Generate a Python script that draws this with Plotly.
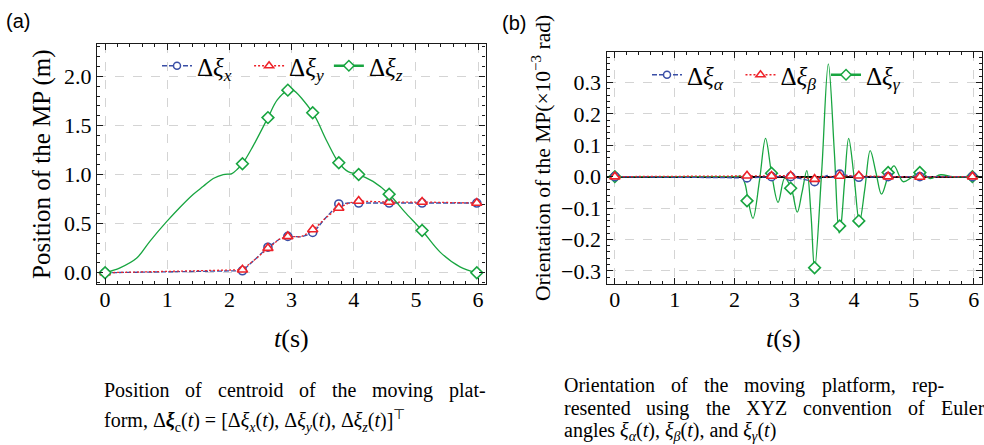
import plotly.graph_objects as go

# ---------------- panel (a): position of the moving platform ----------------
t_marks = [0.0, 2.21, 2.62, 2.94, 3.34, 3.76, 4.08, 4.57, 5.10, 5.98]
pos_x_marks = [0.0, 0.02, 0.26, 0.37, 0.41, 0.70, 0.71, 0.71, 0.71, 0.71]
pos_y_marks = [0.0, 0.03, 0.25, 0.37, 0.44, 0.66, 0.73, 0.72, 0.72, 0.71]
pos_z_marks = [0.0, 1.11, 1.58, 1.86, 1.63, 1.12, 1.00, 0.80, 0.43, 0.0]

t_pos_xy = [0.0, 2.21, 2.42, 2.62, 2.80, 2.94, 3.15, 3.34, 3.55, 3.76, 3.92, 4.08, 4.57, 5.10, 5.98]
pos_x_line = [0.0, 0.02, 0.14, 0.26, 0.34, 0.37, 0.365, 0.40, 0.56, 0.70, 0.71, 0.71, 0.71, 0.71, 0.71]
pos_y_line = [0.0, 0.03, 0.14, 0.25, 0.34, 0.37, 0.365, 0.43, 0.56, 0.66, 0.71, 0.73, 0.72, 0.72, 0.71]

t_pos_z = [0.0, 0.24, 0.51, 0.72, 0.99, 1.21, 1.42, 1.58, 1.74, 1.90, 2.04, 2.12,
           2.21, 2.38, 2.62, 2.77, 2.94, 3.00, 3.34, 3.56, 3.76, 3.91, 4.08, 4.31,
           4.57, 4.82, 5.10, 5.39, 5.71, 5.98]
pos_z_line = [0.0, 0.05, 0.15, 0.32, 0.52, 0.67, 0.80, 0.88, 0.96, 1.00, 1.01, 1.05,
              1.11, 1.29, 1.58, 1.76, 1.86, 1.87, 1.63, 1.35, 1.12, 1.03, 1.00, 0.93,
              0.80, 0.62, 0.43, 0.21, 0.06, 0.0]

# ---------------- panel (b): orientation (x1e-3 rad) ----------------
ori_a_marks = [0.0, -0.004, 0.0, 0.0, -0.016, 0.008, -0.002, 0.0, 0.0, 0.0]
ori_b_marks = [0.0, 0.003, 0.002, 0.003, -0.008, 0.002, 0.003, 0.0, -0.001, 0.0]
ori_g_marks = [0.0, -0.077, 0.011, -0.037, -0.290, -0.157, -0.141, 0.013, 0.013, 0.0]

t_ori_ab = [0.0, 2.21, 2.62, 2.94, 3.34, 3.45, 3.55, 3.65, 3.76, 4.08, 4.57, 5.10, 5.98]
ori_a_line = [0.0, -0.004, 0.0, 0.0, -0.016, -0.004, 0.004, -0.003, 0.008, -0.002, 0.0, 0.0, 0.0]
ori_b_line = [0.0, 0.003, 0.002, 0.003, -0.008, 0.002, -0.003, 0.002, 0.002, 0.003, 0.0, -0.001, 0.0]

t_ori_g = [0.0, 1.0, 2.0, 2.12, 2.18, 2.23, 2.31, 2.42, 2.52, 2.62, 2.73, 2.84, 2.95,
           3.05, 3.13, 3.21, 3.28, 3.34, 3.46, 3.57, 3.67, 3.75, 3.78, 3.84, 3.91,
           4.00, 4.09, 4.18, 4.27, 4.37, 4.46, 4.59, 4.67, 4.82, 4.95, 5.05, 5.13,
           5.27, 5.45, 5.65, 5.98]
ori_g_line = [0.0, 0.0, 0.0, 0.0, -0.025, -0.077, -0.133, -0.01, 0.122, 0.011, -0.082,
              -0.005, -0.037, -0.113, -0.05, 0.019, -0.12, -0.295, 0.02, 0.359, 0.08,
              -0.18, -0.157, -0.02, 0.122, 0.0, -0.145, -0.04, 0.083, 0.01, -0.056,
              0.013, 0.034, -0.016, -0.004, 0.01, 0.013, -0.006, 0.006, 0.0, 0.0]

x_ticks = [0, 1, 2, 3, 4, 5, 6]
ya_ticks = [0.0, 0.5, 1.0, 1.5, 2.0]
yb_ticks = [-0.3, -0.2, -0.1, 0.0, 0.1, 0.2, 0.3]

names_a = ["Δ<i>ξ</i><sub><i>x</i></sub>\u2002", "Δ<i>ξ</i><sub><i>y</i></sub>",
           "Δ<i>ξ</i><sub><i>z</i></sub>"]
names_b = ["Δ<i>ξ</i><sub><i>α</i></sub>\u2002", "Δ<i>ξ</i><sub><i>β</i></sub>\u2009",
           "Δ<i>ξ</i><sub><i>γ</i></sub>"]

BLUE = "#3a4fa6"
RED = "#ee2229"
GREEN = "#18a540"
SERIF = "Liberation Serif"

fig = go.Figure()


def add_series(xa, ya, legend, name, rank, t_line, v_line, t_m, v_m, color, dash, symbol,
               msize, shape, lw, legend_lw):
    fig.add_trace(go.Scatter(x=t_line, y=v_line, mode="lines", xaxis=xa, yaxis=ya,
                             line=dict(color=color, width=lw, dash=dash, shape=shape),
                             showlegend=False, hoverinfo="skip"))
    fig.add_trace(go.Scatter(x=t_m, y=v_m, mode="markers", xaxis=xa, yaxis=ya,
                             marker=dict(symbol=symbol, size=msize, color="white",
                                         line=dict(color=color, width=1.6)),
                             showlegend=False))
    fig.add_trace(go.Scatter(x=[None], y=[None], mode="lines+markers", xaxis=xa, yaxis=ya,
                             name=name, legend=legend, legendrank=rank,
                             line=dict(color=color, width=legend_lw, dash=dash),
                             marker=dict(symbol=symbol, size=msize - 1, color="white",
                                         line=dict(color=color, width=1.5))))


add_series("x", "y", "legend", names_a[0], 1, t_pos_xy, pos_x_line, t_marks, pos_x_marks,
           BLUE, "5px,2px", "circle", 8, "linear", 1.3, 1.3)
add_series("x", "y", "legend", names_a[1], 2, t_pos_xy, pos_y_line, t_marks, pos_y_marks,
           RED, "2px,2px", "triangle-up", 9, "linear", 1.3, 1.3)
add_series("x", "y", "legend", names_a[2], 3, t_pos_z, pos_z_line, t_marks, pos_z_marks,
           GREEN, "solid", "diamond", 9, "spline", 1.3, 2.5)

add_series("x2", "y2", "legend2", names_b[2], 3, t_ori_g, ori_g_line, t_marks, ori_g_marks,
           GREEN, "solid", "diamond", 9, "spline", 1.3, 2.5)
add_series("x2", "y2", "legend2", names_b[0], 1, t_ori_ab, ori_a_line, t_marks, ori_a_marks,
           BLUE, "5px,2px", "circle", 8, "linear", 1.3, 1.3)
add_series("x2", "y2", "legend2", names_b[1], 2, t_ori_ab, ori_b_line, t_marks, ori_b_marks,
           RED, "2px,2px", "triangle-up", 9, "linear", 1.3, 1.3)

W, H = 984, 445


def px(x):
    return x / W


def py(y):
    return 1 - y / H


axis_common = dict(showline=True, linecolor="#1a1a1a", linewidth=1.3, mirror="allticks",
                   ticks="inside", ticklen=6, tickwidth=1.1, tickcolor="#1a1a1a",
                   showgrid=True, gridcolor="#d4d4d4", griddash="dash", gridwidth=1,
                   tickfont=dict(family=SERIF, size=22, color="black"),
                   automargin=False, zeroline=False, ticklabeloverflow="allow")
minor_x = dict(dtick=0.2, ticks="inside", ticklen=3, tickcolor="#1a1a1a", showgrid=False)

fig.update_layout(
    width=W, height=H,
    margin=dict(l=0, r=0, t=0, b=0),
    paper_bgcolor="white", plot_bgcolor="white",
    font=dict(family=SERIF, color="black"),
    xaxis=dict(domain=[px(97), px(485.5)], range=[-0.13, 6.12], tickvals=x_ticks,
               anchor="y", minor=minor_x, ticklabelstandoff=-5, **axis_common),
    yaxis=dict(domain=[py(284), py(44)], range=[-0.115, 2.33], tickvals=ya_ticks,
               tickformat=".1f", anchor="x",
               minor=dict(dtick=0.1, ticks="inside", ticklen=3, tickcolor="#1a1a1a",
                          showgrid=False), **axis_common),
    xaxis2=dict(domain=[px(606.5), px(982)], range=[-0.14, 6.14], tickvals=x_ticks,
                anchor="y2", minor=minor_x, ticklabelstandoff=-5, **axis_common),
    yaxis2=dict(domain=[py(284), py(51.7)], range=[-0.342, 0.398], tickvals=yb_ticks,
                tickformat=".1f", anchor="x2",
                minor=dict(dtick=0.02, ticks="inside", ticklen=3, tickcolor="#1a1a1a",
                           showgrid=False), **axis_common),
    legend=dict(orientation="h", x=px(157), y=py(66), xanchor="left", yanchor="middle",
                bgcolor="rgba(0,0,0,0)", font=dict(family=SERIF, size=25),
                itemwidth=30, traceorder="normal"),
    legend2=dict(orientation="h", x=px(647), y=py(75), xanchor="left", yanchor="middle",
                 bgcolor="rgba(0,0,0,0)", font=dict(family=SERIF, size=25),
                 itemwidth=30, traceorder="normal"),
)
fig.layout.yaxis2.zeroline = True
fig.layout.yaxis2.zerolinecolor = "black"
fig.layout.yaxis2.zerolinewidth = 1.6

annotations = []


def ann(text, x, y, size, family=SERIF, angle=0, xanchor="center", yanchor="middle"):
    annotations.append(dict(text=text, x=px(x), y=py(y), xref="paper", yref="paper",
                            showarrow=False, textangle=angle, xanchor=xanchor,
                            yanchor=yanchor, font=dict(family=family, size=size, color="black")))


# Times-compatible advance widths (per 1000 em) for justified caption lines
TIMES_W = {" ": 250, ",": 250, "-": 333, ".": 250,
           "a": 444, "b": 500, "c": 444, "d": 500, "e": 444, "f": 333, "g": 500, "h": 500,
           "i": 278, "j": 278, "k": 500, "l": 278, "m": 778, "n": 500, "o": 500, "p": 500,
           "q": 500, "r": 333, "s": 389, "t": 278, "u": 500, "v": 500, "w": 722, "x": 500,
           "y": 500, "z": 444, "O": 722, "P": 556, "X": 722, "Y": 722, "Z": 611, "E": 611,
           "M": 889}


def text_w(s, size):
    return sum(TIMES_W.get(c, 500) for c in s) * size / 1000.0


def justified(line, left, right, y, size):
    words = line.split(" ")
    total = sum(text_w(w, size) for w in words)
    gap = (right - left - total) / (len(words) - 1)
    x = left
    for w in words:
        ann(w, x, y, size, xanchor="left")
        x += text_w(w, size) + gap


ann("(a)", 18, 21, 20, family="Liberation Sans")
ann("(b)", 514, 23, 20, family="Liberation Sans")
ann("Position of the MP (m)", 42, 164, 25, angle=-90)
ann("Orientation of the MP(×10<sup>−3</sup> rad)", 541, 158, 21.5, angle=-90)
ann("<i>t</i>(s)", 291, 338, 26)
ann("<i>t</i>(s)", 783, 338, 26)

justified("Position of centroid of the moving plat-", 101.7, 484, 390, 20)
ann("form, Δ<b><i>ξ</i></b><sub>c</sub>(<i>t</i>) = [Δ<i>ξ</i><sub><i>x</i></sub>(<i>t</i>), "
    "Δ<i>ξ</i><sub><i>y</i></sub>(<i>t</i>), Δ<i>ξ</i><sub><i>z</i></sub>(<i>t</i>)]<sup>⊤</sup>",
    101.7, 421, 20, xanchor="left")

justified("Orientation of the moving platform, rep-", 561.7, 941.7, 385, 20)
justified("resented using the XYZ convention of Euler", 561.7, 982, 408, 20)
ann("angles <i>ξ</i><sub><i>α</i></sub>(<i>t</i>), <i>ξ</i><sub><i>β</i></sub>(<i>t</i>), and "
    "<i>ξ</i><sub><i>γ</i></sub>(<i>t</i>)", 561.7, 431, 20, xanchor="left")

fig.update_layout(annotations=annotations)
fig.write_html(
    "out.html",
    config={"displayModeBar": False},
    post_script="document.body.style.margin='0';document.body.style.overflow='hidden';",
)
